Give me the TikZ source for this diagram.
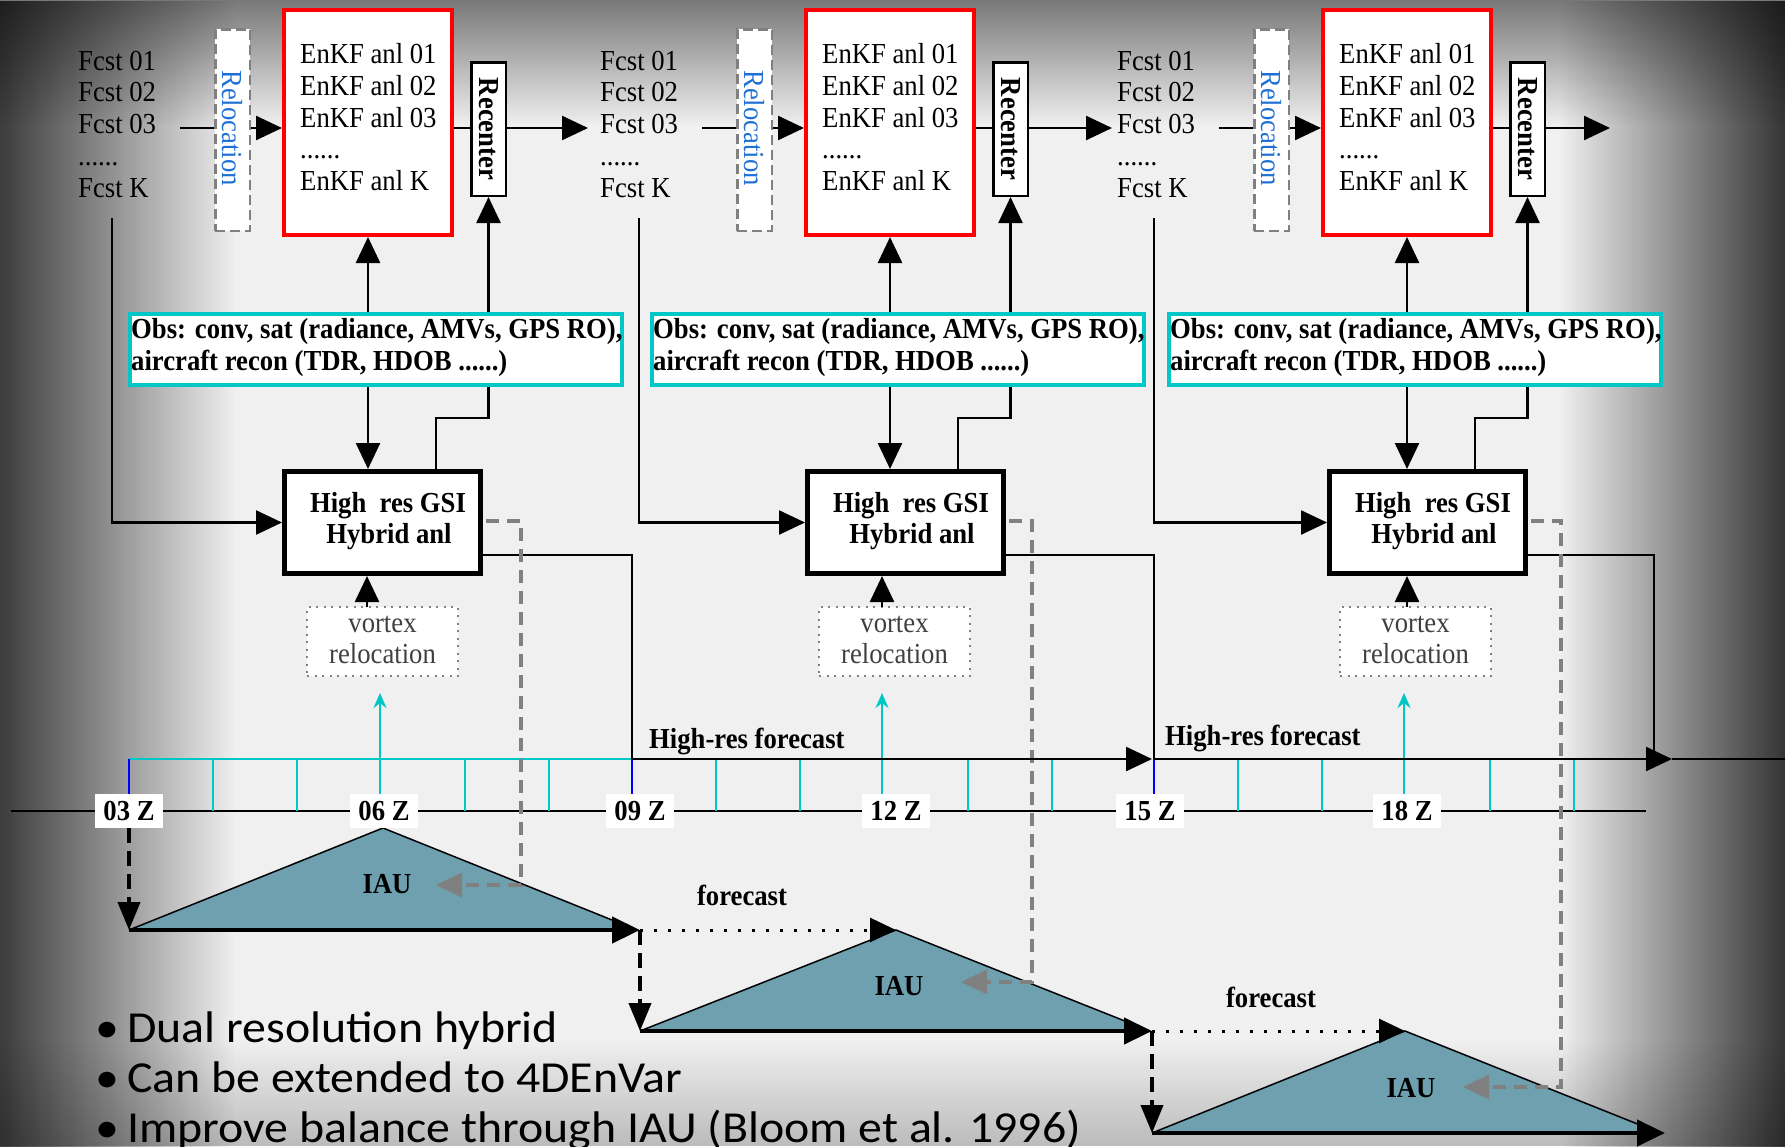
\documentclass[tikz,border=0pt]{standalone}
\usepackage{fontspec}
\setmainfont{Liberation Serif}[FakeStretch=0.92]
\newfontfamily\bulfont{Carlito}[FakeStretch=1.08]
\usetikzlibrary{arrows.meta,fadings}

\definecolor{bgc}{RGB}{240,240,240}
\definecolor{obscyan}{RGB}{0,200,200}
\definecolor{iaucol}{RGB}{110,160,176}
\definecolor{relblue}{RGB}{30,112,214}
\definecolor{dgray}{RGB}{128,128,128}
\definecolor{vgray}{RGB}{64,64,64}

\tikzfading[name=fadeR, left color=transparent!0, middle color=transparent!65, right color=transparent!100]
\tikzfading[name=fadeL, left color=transparent!100, middle color=transparent!60, right color=transparent!0]
\tikzfading[name=fadeD, top color=transparent!0, bottom color=transparent!100]
\tikzfading[name=fadeU, top color=transparent!100, bottom color=transparent!0]

\newcommand\dfont{\fontsize{29pt}{32pt}\selectfont}
\newcommand\bulletfnt{\bulfont\fontsize{44.3pt}{50pt}\selectfont}

\tikzset{
  mainline/.style={line width=2.5pt},
  bigarrow/.style={-{Triangle[length=26pt,width=24pt]}},
  txtline/.style={anchor=base west, inner sep=0pt, font=\dfont},
  relocbox/.style={draw=dgray, line width=2.5pt, dash pattern=on 10pt off 5pt, fill=white, minimum width=34.5pt, minimum height=201.5pt, inner sep=0pt},
  redbox/.style={draw=red, line width=4pt, fill=white, minimum width=168pt, minimum height=225pt, inner sep=0pt},
  recbox/.style={draw=black, line width=2.5pt, fill=white, minimum width=34.5pt, minimum height=133.5pt, inner sep=0pt},
  obsbox/.style={draw=obscyan, line width=4pt, fill=white, minimum width=492pt, minimum height=71pt, inner sep=0pt},
  gsibox/.style={draw=black, line width=5pt, fill=white, minimum width=196pt, minimum height=102pt, inner sep=0pt},
  vortbox/.style={draw=dgray, line width=2pt, dash pattern=on 2pt off 5.5pt, fill=white, minimum width=151pt, minimum height=69pt, inner sep=0pt},
  timelbl/.style={fill=white, minimum width=68pt, minimum height=34pt, inner sep=0pt, font=\dfont\bfseries},
  graydash/.style={draw=dgray, line width=3.2pt, dash pattern=on 13pt off 8pt},
  grayarrow/.style={-{Triangle[length=26pt,width=24pt]}},
  blackdash/.style={line width=4pt, dash pattern=on 15pt off 8pt, -{Triangle[length=28pt,width=22pt]}},
  dotline/.style={line width=3pt, dash pattern=on 3pt off 11pt, -{Triangle[length=26pt,width=24pt]}},
  tickc/.style={draw=obscyan, line width=1.6pt},
  boldtxt/.style={inner sep=0pt, font=\dfont\bfseries},
  bullettxt/.style={anchor=base west, inner sep=0pt, font=\bulletfnt},
}

\begin{document}
\begin{tikzpicture}[x=1pt,y=1pt]
\useasboundingbox (0,-1146) rectangle (1785,0);
\clip (0,-1146) rectangle (1785,0);
% background
\fill[bgc] (0,-1146) rectangle (1785,0);
\fill[black, opacity=0.75, path fading=fadeR] (0,-1146) rectangle (235,0);
\fill[black, opacity=0.5, path fading=fadeD] (0,-125) rectangle (1785,0);
\fill[black, opacity=0.78, path fading=fadeL] (1560,-1146) rectangle (1785,0);
\fill[black, opacity=0.22, path fading=fadeU] (0,-1146) rectangle (1785,-1040);

\begin{scope}[y=-1pt]
% ---------- time axis ----------
\coordinate (tlA) at (11,811);
\coordinate (tlB) at (1646,811);
\draw[line width=2pt] (tlA) -- (tlB);
\coordinate (cbA) at (129,759);
\coordinate (cbB) at (632,759);
\draw[tickc] (cbA) -- (cbB);
\foreach \W in {129,632,1154}{
  \foreach \K in {1,2,4,5}{\draw[tickc] (\W+84*\K,759) -- (\W+84*\K,811);}
  \draw[draw=blue, line width=1.6pt] (\W,759) -- (\W,794);
}
\foreach \Q/\X in {a/380,b/882,c/1404}{
  \coordinate (cy\Q0) at (\X,811);
  \coordinate (cy\Q1) at (\X,693);
  \draw[draw=obscyan, line width=2pt, -{Stealth[length=15pt,width=13pt]}] (cy\Q0) -- (cy\Q1);
}

% ---------- IAU triangles ----------
\foreach \I/\XL/\XT/\XR/\YB/\YA/\XE in {1/129/383/637/930/828/640, 2/640/896/1150/1031/930/1152, 3/1152/1405/1660/1133/1031/1665}{
  \coordinate (iL\I) at (\XL,\YB);
  \coordinate (iT\I) at (\XT,\YA);
  \coordinate (iR\I) at (\XR,\YB);
  \coordinate (iE\I) at (\XE,\YB);
  \fill[iaucol] (iL\I) -- (iT\I) -- (iR\I) -- cycle;
  \draw[line width=1.5pt] (iL\I) -- (iT\I) -- (iR\I);
  \draw[line width=4.5pt, -{Triangle[length=28pt,width=26pt]}] (iL\I) -- (iE\I);
}
\node[boldtxt, anchor=base] (iau1) at (387,893) {IAU};
\node[boldtxt, anchor=base] (iau2) at (899,995) {IAU};
\node[boldtxt, anchor=base] (iau3) at (1411,1097) {IAU};

% ---------- time labels ----------
\foreach \TN/\X in {03/129,06/384,09/640,12/896,15/1150,18/1407}{
  \node[timelbl] (t\TN) at (\X,811) {\TN\ Z};
}
\draw[blackdash] (t03.south) -- (iL1);
\draw[blackdash] (iE1) -- (iL2);
\draw[blackdash] (iE2) -- (iL3);
\draw[dotline] (iE1) -- (iT2);
\draw[dotline] (iE2) -- (iT3);
\node[boldtxt, anchor=base] (fcl1) at (742,905) {forecast};
\node[boldtxt, anchor=base] (fcl2) at (1271,1007) {forecast};
\node[boldtxt, anchor=base west] (hrl1) at (649,748) {High-res forecast};
\node[boldtxt, anchor=base west] (hrl2) at (1165,745) {High-res forecast};

% ---------- panels ----------
\foreach \Pn/\Dx/\Tp/\Gx/\Vc/\Va/\Fk/\Hx/\Gd/\Gy/\Gt in {
  1/0/588/382.5/382.5/367/112/632/521/885/436,
  2/522/1112/905.5/894.5/882/639/1154/1032/982/961,
  3/1039/1610/1427.5/1415.5/1407/1154/1654/1561/1087/1463}{
  % forecasts
  \node[txtline] (fa\Pn) at (78+\Dx,70) {Fcst 01};
  \node[txtline] (fb\Pn) at (78+\Dx,101.5) {Fcst 02};
  \node[txtline] (fc\Pn) at (78+\Dx,133) {Fcst 03};
  \node[txtline] (fd\Pn) at (78+\Dx,165) {......};
  \node[txtline] (fe\Pn) at (78+\Dx,197) {Fcst K};
  % relocation
  \node[relocbox] (rl\Pn) at (232.5+\Dx,130) {};
  \node[rotate=-90, inner sep=0pt, font=\dfont, text=relblue] (rt\Pn) at (232.5+\Dx,128) {Relocation};
  % EnKF
  \node[redbox] (rd\Pn) at (368+\Dx,122.5) {};
  \node[txtline] (ea\Pn) at (300+\Dx,63) {EnKF anl 01};
  \node[txtline] (eb\Pn) at (300+\Dx,95) {EnKF anl 02};
  \node[txtline] (ec\Pn) at (300+\Dx,127) {EnKF anl 03};
  \node[txtline] (ed\Pn) at (300+\Dx,158) {......};
  \node[txtline] (ee\Pn) at (300+\Dx,190) {EnKF anl K};
  % recenter
  \node[recbox] (rc\Pn) at (488.5+\Dx,129) {};
  \node[rotate=-90, boldtxt] (ct\Pn) at (rc\Pn.center) {Recenter};
  % top flow
  \coordinate (fs\Pn) at (180+\Dx,128);
  \coordinate (tp\Pn) at (\Tp,128);
  \draw[mainline] (fs\Pn) -- (fs\Pn -| rl\Pn.west);
  \draw[mainline,bigarrow] (fs\Pn -| rl\Pn.east) -- (fs\Pn -| rd\Pn.west);
  \draw[mainline] (fs\Pn -| rd\Pn.east) -- (fs\Pn -| rc\Pn.west);
  \draw[mainline,bigarrow] (fs\Pn -| rc\Pn.east) -- (tp\Pn);
  % obs
  \node[obsbox] (ob\Pn) at (376+\Dx,349.5) {};
  \node[txtline, font=\dfont\bfseries] (oa\Pn) at (131+\Dx,338) {Obs: conv, sat (radiance, AMVs, GPS RO),};
  \node[txtline, font=\dfont\bfseries] (oc\Pn) at (131+\Dx,370) {aircraft recon (TDR, HDOB ......)};
  \draw[mainline,bigarrow] (rd\Pn.south |- ob\Pn.north) -- (rd\Pn.south);
  \draw[mainline,bigarrow] (rc\Pn.south |- ob\Pn.north) -- (rc\Pn.south);
  % GSI
  \node[gsibox] (gs\Pn) at (\Gx,522.5) {};
  \node[boldtxt, anchor=base] (ga\Pn) at (\Gx+5.5,512) {High\ \ res GSI};
  \node[boldtxt, anchor=base] (gb\Pn) at (\Gx+6.5,543) {Hybrid anl};
  \draw[mainline,bigarrow] (rd\Pn.south |- ob\Pn.south) -- (rd\Pn.south |- gs\Pn.north);
  \coordinate (sk\Pn) at (436+\Dx,418);
  \draw[mainline] (rc\Pn.south |- ob\Pn.south) |- (sk\Pn) -- (sk\Pn |- gs\Pn.north);
  \coordinate (fk\Pn) at (\Fk,218);
  \draw[mainline,bigarrow] (fk\Pn) |- (gs\Pn.west);
  % vortex relocation
  \node[vortbox] (vx\Pn) at (\Vc,641.5) {};
  \node[inner sep=0pt, font=\dfont, text=vgray, anchor=base] (va\Pn) at (\Vc,632) {vortex};
  \node[inner sep=0pt, font=\dfont, text=vgray, anchor=base] (vb\Pn) at (\Vc,663) {relocation};
  \coordinate (vt\Pn) at (\Va,607);
  \draw[mainline,bigarrow] (vt\Pn) -- (vt\Pn |- gs\Pn.south);
  % high-res output
  \coordinate (hd\Pn) at (\Hx,555);
  \coordinate (hb\Pn) at (\Hx,759);
  \draw[mainline] (gs\Pn.east |- hd\Pn) -- (hd\Pn) -- (hb\Pn);
  % IAU increment (gray dashed)
  \coordinate (gw\Pn) at ([xshift=3pt]gs\Pn.east);
  \coordinate (gd\Pn) at (\Gd,521);
  \coordinate (ge\Pn) at (\Gd,\Gy);
  \coordinate (gt\Pn) at (\Gt,\Gy);
  \draw[graydash, grayarrow] (gw\Pn |- gd\Pn) -- (gd\Pn) -- (ge\Pn) -- (gt\Pn);
}

% high-res forecast arrows
\coordinate (hC) at (1152,759);
\coordinate (hF) at (1672,759);
\coordinate (hI) at (1785,759);
\draw[mainline,bigarrow] (hb1) -- (hC);
\draw[mainline,bigarrow] (hb2) -- (hF);
\draw[line width=1.8pt] (hF) -- (hI);

% ---------- bullets ----------
\node[bullettxt] (bu1) at (95,1042) {•};
\node[bullettxt] (bt1) at (127,1042) {Dual resolution hybrid};
\node[bullettxt] (bu2) at (95,1092) {•};
\node[bullettxt] (bt2) at (127,1092) {Can be extended to 4DEnVar};
\node[bullettxt] (bu3) at (95,1142) {•};
\node[bullettxt] (bt3) at (127,1142) {Improve balance through IAU (Bloom et al. 1996)};
\end{scope}
\end{tikzpicture}
\end{document}
